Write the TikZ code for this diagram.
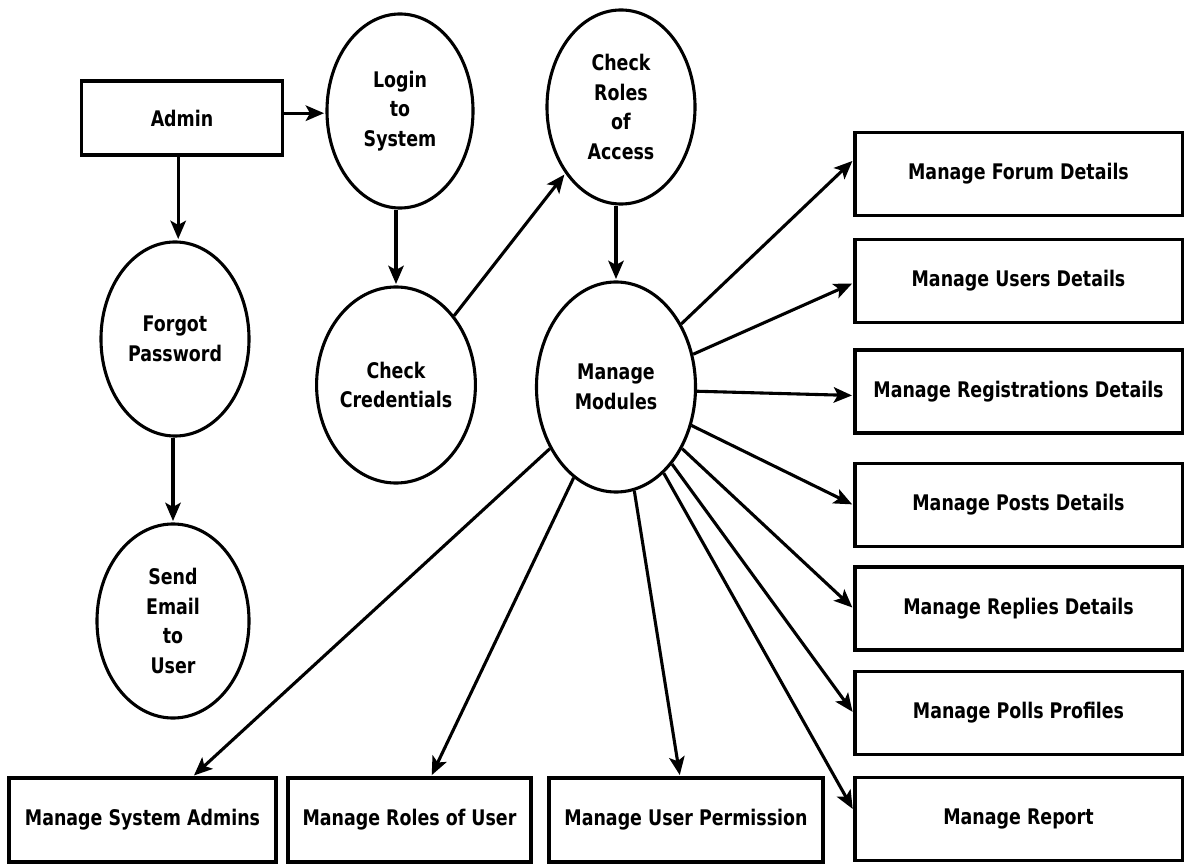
\documentclass[tikz,border=0pt]{standalone}
\usepackage{fontspec}
\setmainfont{DejaVu Sans}[FakeStretch=0.81]
\usepackage{tikz}
\usetikzlibrary{arrows.meta}
\usetikzlibrary{shapes.geometric}
\usetikzlibrary{positioning}

\begin{document}
\begin{tikzpicture}[->,>={Stealth[length=13pt,width=11pt,inset=3pt]},shorten >=1pt,x=0.025cm,y=-0.025cm,
  line width=2.2pt,
  state node/.style={ellipse,draw,align=center,inner sep=0pt,
    minimum width=3.7cm,minimum height=4.85cm,
    font=\fontsize{15.3}{21}\selectfont\bfseries},
  box node/.style={rectangle,draw,inner sep=0pt,
    minimum width=8.175cm,minimum height=2.075cm,
    font=\fontsize{15.3}{21}\selectfont\bfseries}]

  \useasboundingbox (0,0) rectangle (1184,865);

  \node[box node,minimum width=5.025cm,minimum height=1.85cm] (1) at (182,118) {Admin};
  \node[state node,minimum width=3.65cm] (2) at (400,111) {Login\\to\\System};
  \node[state node] (3) at (175,339) {Forgot\\Password};
  \node[state node,minimum width=3.8cm] (4) at (173,621) {Send\\Email\\to\\User};
  \node[state node,minimum height=4.9cm] (5) at (396,385) {Check\\Credentials};
  \node[state node] (6) at (621,107) {Check\\Roles\\of\\Access};
  \node[state node,minimum width=3.975cm,minimum height=5.25cm] (7) at (616,387) {Manage\\Modules};

  \node[box node] (8) at (1018.5,174) {Manage Forum Details};
  \node[box node] (9) at (1018.5,281) {Manage Users Details};
  \node[box node] (10) at (1018.5,391.5) {Manage Registrations Details};
  \node[box node] (11) at (1018.5,505) {Manage Posts Details};
  \node[box node] (12) at (1018.5,608.5) {Manage Replies Details};
  \node[box node] (13) at (1018.5,713) {Manage Polls Profiles};
  \node[box node] (14) at (1018.5,819) {Manage Report};

  \node[box node,minimum width=6.675cm,minimum height=2.1cm] (15) at (142.5,820) {Manage System Admins};
  \node[box node,minimum width=6.075cm,minimum height=2.1cm] (16) at (409.5,820) {Manage Roles of User};
  \node[box node,minimum width=6.85cm,minimum height=2.1cm] (17) at (686,820) {Manage User Permission};

  \path
    ([yshift=0.12cm]1.east) edge ([yshift=0.12cm]1.east -| 2.west)
    ([xshift=0.08cm]3.north |- 1.south) edge ([xshift=0.08cm]3.north)
    (4.north |- 3.south) edge (4.north)
    (5.north |- 2.south) edge (5.north)
    (5.50) edge (6.230)
    (7.north |- 6.south) edge (7.north);

  \path
    (7.44) edge ([yshift=0.35cm]8.west)
    (7.23) edge ([yshift=-0.05cm]9.west)
    (7.-3) edge ([yshift=-0.1cm]10.west)
    (7.-27) edge (11.west)
    (7.-43) edge (12.west)
    (7.-54) edge (13.west)
    (7.-61) edge ([yshift=0.22cm]14.west)
    (7.-80) edge ([xshift=-0.15cm]17.north)
    (7.-115) edge ([xshift=0.54cm]16.north)
    (7.-137) edge ([xshift=1.26cm]15.north);

\end{tikzpicture}
\end{document}
